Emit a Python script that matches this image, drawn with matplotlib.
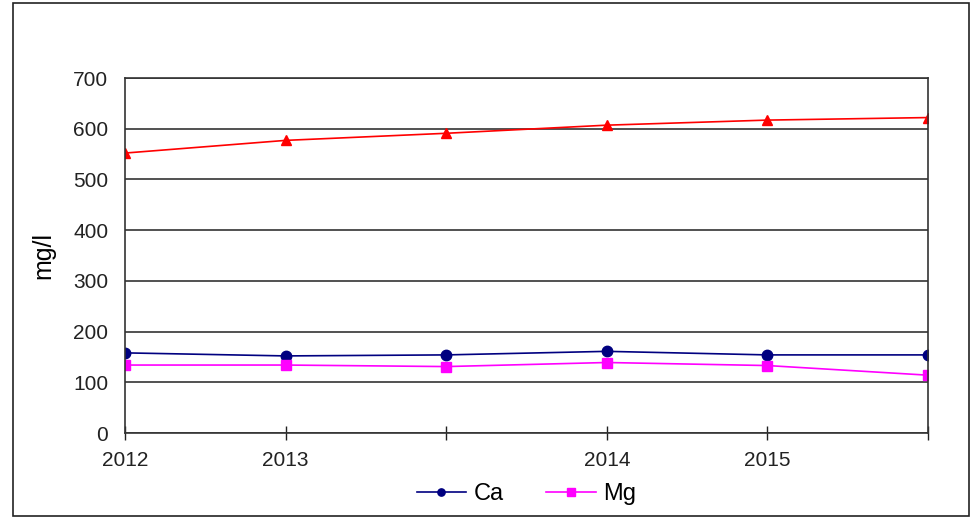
import matplotlib.pyplot as plt
from matplotlib.patches import Rectangle

plt.rcParams['font.family'] = ['Liberation Sans', 'DejaVu Sans']

# sampling points along the x axis; only some carry a year label
positions = [0, 1, 2, 3, 4, 5]
tick_labels = ['2012', '2013', '', '2014', '2015', '']

# concentrations in mg/l
total = [552, 577, 591, 607, 617, 622]
ca = [158, 152, 154, 161, 154, 154]
mg = [134, 134, 131, 139, 133, 114]

fig = plt.figure(figsize=(9.78, 5.19), dpi=100)
ax = fig.add_axes([0.1278, 0.1657, 0.9489 - 0.1278, 0.8497 - 0.1657])

# outer chart frame
fig.patches.append(Rectangle((13 / 978, 3 / 519), (969 - 13) / 978, (516 - 3) / 519,
                             transform=fig.transFigure, fill=False,
                             edgecolor='#222222', linewidth=1.2))

ax.plot(positions, total, color='#ff0000', marker='^', markersize=7.5, linewidth=1.2)
ax.plot(positions, ca, color='#000080', marker='o', markersize=7.5, linewidth=1.2, label='Ca')
ax.plot(positions, mg, color='#ff00ff', marker='s', markersize=7.5, linewidth=1.2, label='Mg')

ax.set_xlim(0, 5)
ax.set_ylim(0, 700)
ax.set_yticks(range(0, 701, 100))
ax.yaxis.grid(True, color='#333333', linewidth=1.2)
ax.set_axisbelow(True)

ax.set_xticks(positions)
ax.set_xticklabels(tick_labels)
ax.tick_params(axis='x', direction='inout', length=10, width=1, labelsize=15, pad=8, colors='#222222')
ax.tick_params(axis='y', length=0, labelsize=15, pad=12, colors='#222222')

for side in ['left', 'right', 'top', 'bottom']:
    ax.spines[side].set_color('#333333')
    ax.spines[side].set_linewidth(1.2)

ax.set_ylabel('mg/l', fontsize=18, labelpad=13)

fig.legend(loc='center', bbox_to_anchor=(0.538, 0.048), ncol=2, frameon=False,
           fontsize=17, handlelength=2.1, handletextpad=0.3, columnspacing=1.8,
           markerscale=0.7)

plt.savefig('out.png', dpi=100)
